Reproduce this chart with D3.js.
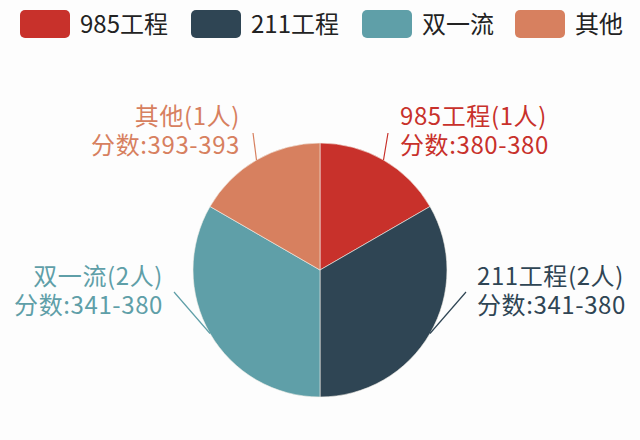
<!DOCTYPE html>
<html>
<head>
<meta charset="utf-8">
<script src="https://cdn.jsdelivr.net/npm/d3@7"></script>
<style>
  html, body { margin: 0; padding: 0; background: #fdfdfd; }
  svg { display: block; font-family: "Noto Sans CJK SC", "Noto Sans", sans-serif; }
</style>
</head>
<body>
<svg id="chart" width="640" height="440"></svg>
<script>
// data
const categories = ['985工程', '211工程', '双一流', '其他']
const counts = [1, 2, 2, 1]
const scoreRanges = ['380-380', '341-380', '341-380', '393-393']
const colors = ['#c8312b', '#2f4554', '#5f9fa8', '#d7805f']

const W = 640, H = 440
const cx = 320, cy = 270, R = 127

const svg = d3.select('#chart')

// legend
const legendX = [20, 191, 362, 515]
const legend = svg.append('g').attr('class', 'legend')
categories.forEach((c, i) => {
  const g = legend.append('g').attr('transform', `translate(${legendX[i]},10)`)
  g.append('rect')
    .attr('width', 50).attr('height', 28)
    .attr('rx', 5).attr('ry', 5)
    .attr('fill', colors[i])
  g.append('text')
    .attr('x', 60).attr('y', 14)
    .attr('dy', '0.36em')
    .attr('font-size', 24)
    .attr('fill', '#222')
    .text(c)
})

// pie
const pie = d3.pie().sort(null).value(d => d)
const arcs = pie(counts)
const arc = d3.arc().innerRadius(0).outerRadius(R)
const edge = d3.arc().innerRadius(R).outerRadius(R)

const gPie = svg.append('g').attr('transform', `translate(${cx},${cy})`)
gPie.selectAll('path.slice')
  .data(arcs)
  .enter().append('path')
  .attr('class', 'slice')
  .attr('d', arc)
  .attr('fill', (d, i) => colors[i])
  .attr('stroke', '#f4f0ea')
  .attr('stroke-width', 0.6)

// labels (positions are layout)
const labelPos = [
  { x: 400, y: 116, anchor: 'start', lx: 388, ly: 133 },
  { x: 477, y: 276, anchor: 'start', lx: 466, ly: 292 },
  { x: 163, y: 276, anchor: 'end', lx: 174, ly: 292 },
  { x: 240, y: 116, anchor: 'end', lx: 253, ly: 133 }
]

arcs.forEach((d, i) => {
  const p = edge.centroid(d)
  const lp = labelPos[i]
  svg.append('line')
    .attr('x1', cx + p[0]).attr('y1', cy + p[1])
    .attr('x2', lp.lx).attr('y2', lp.ly)
    .attr('stroke', colors[i])
    .attr('stroke-width', 1.2)
  const t = svg.append('text')
    .attr('text-anchor', lp.anchor)
    .attr('font-size', 24)
    .attr('letter-spacing', 0.6)
    .attr('fill', colors[i])
  t.append('tspan')
    .attr('x', lp.x).attr('y', lp.y).attr('dy', '0.36em')
    .text(`${categories[i]}(${counts[i]}人)`)
  t.append('tspan')
    .attr('x', lp.x).attr('y', lp.y + 29).attr('dy', '0.36em')
    .text(`分数:${scoreRanges[i]}`)
})
</script>
</body>
</html>
